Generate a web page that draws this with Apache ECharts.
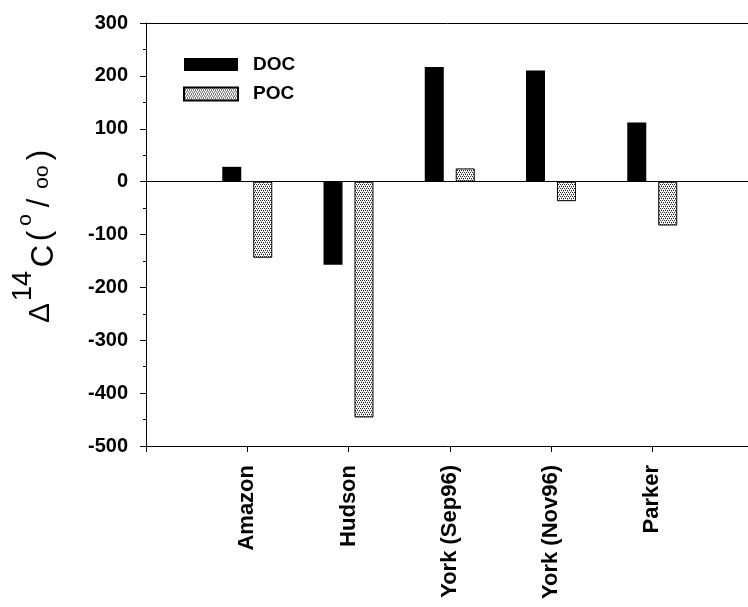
<!DOCTYPE html>
<html>
<head>
<meta charset="utf-8">
<script src="https://cdn.jsdelivr.net/npm/echarts@6/dist/echarts.min.js"></script>
<style>html,body{margin:0;padding:0;background:#fff}#c{width:748px;height:607px}</style>
</head>
<body>
<div id="c"></div>
<script>
// ---- data ----
const categories = ['Amazon', 'Hudson', 'York (Sep96)', 'York (Nov96)', 'Parker'];
const docValues = [28, -157, 217, 210, 112];
const pocValues = [-144, -446, 25, -37, -83];
const yTicks = [-500, -400, -300, -200, -100, 0, 100, 200, 300];
const seriesNames = ['DOC', 'POC'];

// ---- build ----
const FONT = '"Liberation Sans", Arial, Helvetica, sans-serif';
const xData = [''].concat(categories, ['']);
const pad = arr => [null].concat(arr, [null]);

function makePattern() {
  const c = document.createElement('canvas');
  c.width = 4; c.height = 4;
  const g = c.getContext('2d');
  g.fillStyle = '#ffffff'; g.fillRect(0, 0, 4, 4);
  g.fillStyle = '#2a2a2a';
  g.fillRect(0, 0, 1, 1); g.fillRect(2, 0, 1, 1);
  g.fillRect(1, 2, 1, 1); g.fillRect(3, 2, 1, 1);
  g.fillStyle = '#9a9a9a';
  g.fillRect(1, 1, 1, 1); g.fillRect(3, 3, 1, 1);
  return c;
}
const pocFill = { image: makePattern(), repeat: 'repeat' };

const chart = echarts.init(document.getElementById('c'), null, { renderer: 'canvas' });

function titlePiece(text, x, y, size) {
  return {
    type: 'text', x: x, y: y, rotation: Math.PI / 2, silent: true,
    style: { text: text, font: size + 'px ' + FONT, fill: '#000',
      align: 'center', verticalAlign: 'middle', textAlign: 'center', textVerticalAlign: 'middle' }
  };
}

const option = {
  backgroundColor: '#fff',
  animation: false,
  grid: { left: 146, top: 23, width: 607.5, height: 423, show: false, outerBoundsMode: 'none' },
  legend: {
    data: seriesNames, orient: 'vertical', left: 183, top: 54.5, padding: 0,
    itemWidth: 54, itemHeight: 13, itemGap: 9.5, selectedMode: false, icon: 'rect',
    textStyle: { fontFamily: FONT, fontWeight: 'bold', fontSize: 19, color: '#000', lineHeight: 20, padding: [0, 0, 0, 10] }
  },
  xAxis: [
    {
      type: 'category', data: xData, boundaryGap: false, position: 'bottom',
      axisLine: { onZero: false, lineStyle: { color: '#000', width: 1 } },
      axisTick: { show: true, length: 6, lineStyle: { color: '#000' }, interval: 0 },
      axisLabel: { rotate: 90, margin: 19, interval: 0, fontFamily: FONT, fontWeight: 'bold', fontSize: 22, color: '#000' },
      splitLine: { show: false }
    },
    {
      type: 'category', data: xData, boundaryGap: false, position: 'top',
      axisLine: { onZero: false, lineStyle: { color: '#000', width: 1 } },
      axisTick: { show: false }, axisLabel: { show: false }, splitLine: { show: false }
    }
  ],
  yAxis: {
    type: 'value', min: yTicks[0], max: yTicks[yTicks.length - 1], interval: 100,
    axisLine: { show: true, lineStyle: { color: '#000', width: 1 } },
    axisTick: { show: true, length: 6, lineStyle: { color: '#000' } },
    minorTick: { show: true, splitNumber: 2, length: 3, lineStyle: { color: '#000' } },
    axisLabel: { margin: 18, fontFamily: FONT, fontWeight: 'bold', fontSize: 20, color: '#000' },
    splitLine: { show: false }
  },
  series: [
    {
      name: seriesNames[0], type: 'bar', xAxisIndex: 0, data: pad(docValues), barWidth: 19, barGap: '63%',
      itemStyle: { color: '#000' },
      markLine: { silent: true, symbol: 'none', label: { show: false },
        lineStyle: { color: '#000', width: 1, type: 'solid' }, data: [{ yAxis: 0 }] }
    },
    {
      name: seriesNames[1], type: 'bar', xAxisIndex: 0, data: pad(pocValues), barWidth: 19,
      itemStyle: { color: pocFill, borderColor: '#000', borderWidth: 1 }
    }
  ],
  graphic: [
    titlePiece('\u0394', 41, 313, 30),
    titlePiece('14', 24, 286, 27),
    titlePiece('C', 44, 256, 31),
    titlePiece('(', 40, 236, 31),
    titlePiece('o', 25, 220, 21),
    titlePiece('/', 40, 203, 31),
    titlePiece('oo', 42, 177, 21),
    titlePiece(')', 40, 155, 31)
  ]
};
chart.setOption(option);
</script>
</body>
</html>
